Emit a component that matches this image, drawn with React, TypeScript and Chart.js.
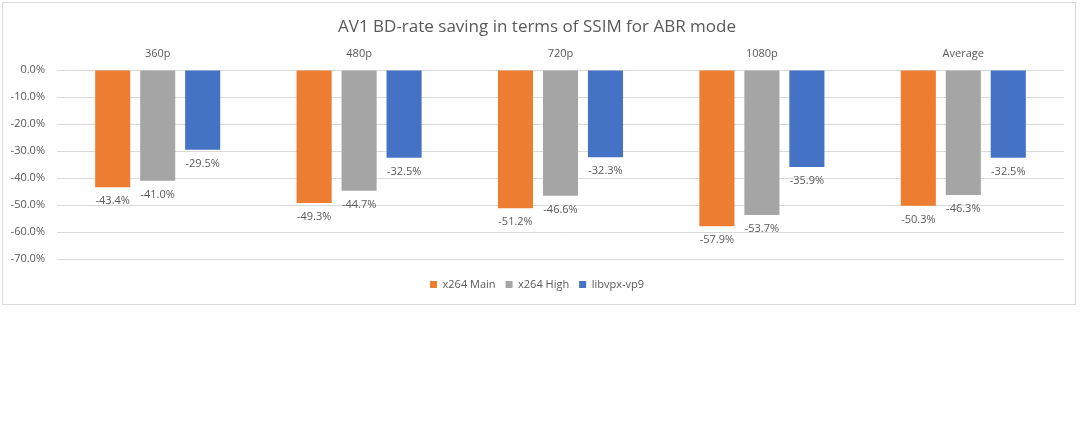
import React, { useEffect, useRef } from "react";
import { Chart, registerables } from "chart.js";

Chart.register(...registerables);

const chartTitle = "AV1 BD-rate saving in terms of SSIM for ABR mode";
const categories = ["360p", "480p", "720p", "1080p", "Average"];
const seriesNames = ["x264 Main", "x264 High", "libvpx-vp9"];
const x264Main = [-43.4, -49.3, -51.2, -57.9, -50.3];
const x264High = [-41.0, -44.7, -46.6, -53.7, -46.3];
const libvpxVp9 = [-29.5, -32.5, -32.3, -35.9, -32.5];
const seriesColors = ["#ED7D31", "#A5A5A5", "#4472C4"];
const yMin = -70;
const yMax = 0;
const yStep = 10;

const FONT = "'Open Sans', 'DejaVu Sans', sans-serif";
const TEXT = "#595959";

const labelPlugin = {
  id: "barValueLabels",
  afterDatasetsDraw(chart: any) {
    const ctx = chart.ctx;
    ctx.save();
    ctx.font = `11px ${FONT}`;
    ctx.fillStyle = TEXT;
    ctx.textAlign = "center";
    ctx.textBaseline = "middle";
    chart.data.datasets.forEach((ds: any, di: number) => {
      const meta = chart.getDatasetMeta(di);
      meta.data.forEach((el: any, i: number) => {
        const v = ds.data[i];
        const y = v < 0 ? el.y + 14 : el.y - 14;
        ctx.fillText(v.toFixed(1) + "%", el.x, y);
      });
    });
    ctx.restore();
  },
};

export default function App() {
  const ref = useRef<HTMLCanvasElement | null>(null);

  useEffect(() => {
    if (!ref.current) return;
    const seriesData = [x264Main, x264High, libvpxVp9];
    const chart = new Chart(ref.current, {
      type: "bar",
      data: {
        labels: categories,
        datasets: seriesNames.map((name, i) => ({
          label: name,
          data: seriesData[i],
          backgroundColor: seriesColors[i],
          borderWidth: 0,
          categoryPercentage: 0.67,
          barPercentage: 0.78,
        })),
      },
      options: {
        responsive: false,
        animation: false,
        devicePixelRatio: 1,
        layout: { padding: { left: 10, right: 16, top: 0, bottom: 5 } },
        plugins: {
          title: {
            display: true,
            text: chartTitle,
            color: TEXT,
            font: { family: FONT, size: 17, weight: "normal" },
            padding: { top: 17, bottom: 0 },
          },
          legend: {
            position: "bottom",
            title: {
              display: true,
              text: "",
              font: { size: 10, lineHeight: 1 },
              padding: 0,
            },
            labels: {
              color: TEXT,
              font: { family: FONT, size: 11 },
              boxWidth: 7,
              boxHeight: 7,
              padding: 10,
            },
          },
          tooltip: { enabled: false },
        },
        scales: {
          x: {
            position: "top",
            grid: { display: false },
            border: { display: false },
            ticks: {
              color: TEXT,
              font: { family: FONT, size: 11 },
              padding: 2,
            },
            afterFit(scale: any) {
              scale.height = 32.6;
            },
          },
          y: {
            min: yMin,
            max: yMax,
            grid: { color: "#D9D9D9", drawTicks: false },
            border: { display: false },
            ticks: {
              stepSize: yStep,
              color: TEXT,
              font: { family: FONT, size: 11 },
              padding: 12,
              callback: (v: any) => Number(v).toFixed(1) + "%",
            },
            afterFit(scale: any) {
              scale.width = 47;
            },
          },
        },
      },
      plugins: [labelPlugin],
    });
    return () => chart.destroy();
  }, []);

  return (
    <div
      style={{
        position: "absolute",
        left: 0,
        top: 0,
        width: 1080,
        height: 429,
        background: "#ffffff",
      }}
    >
      <div
        style={{
          position: "absolute",
          left: 2,
          top: 2,
          width: 1074,
          height: 303,
          boxSizing: "border-box",
          border: "1px solid #D9D9D9",
        }}
      />
      <canvas
        ref={ref}
        width={1080}
        height={305}
        style={{ position: "absolute", left: 0, top: 0, width: 1080, height: 305 }}
      />
    </div>
  );
}
